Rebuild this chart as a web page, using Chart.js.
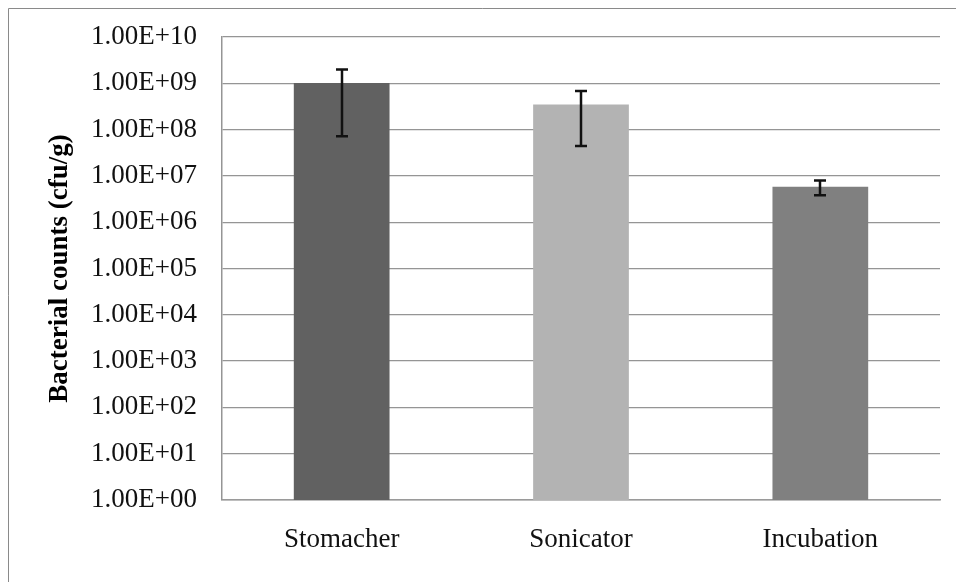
<!DOCTYPE html>
<html>
<head>
<meta charset="utf-8">
<title>Bacterial counts</title>
<script src="https://cdn.jsdelivr.net/npm/chart.js@4/dist/chart.umd.min.js"></script>
<style>
  html, body { margin: 0; padding: 0; background: #fff; }
  #wrap { width: 956px; height: 582px; }
</style>
</head>
<body>
<div id="wrap"><canvas id="countsChart" width="956" height="582"></canvas></div>
<script>
// Values (cfu/g)
const methods = ["Stomacher", "Sonicator", "Incubation"];
const counts = [1.02e9, 3.5e8, 5.8e6];
const errHigh = [1.98e9, 6.8e8, 8.0e6];
const errLow = [7.2e7, 4.4e7, 3.8e6];
const barColors = ["#616161", "#b3b3b3", "#808080"];

const yTickValues = [1, 1e1, 1e2, 1e3, 1e4, 1e5, 1e6, 1e7, 1e8, 1e9, 1e10];
const yTickLabels = [
  "1.00E+00", "1.00E+01", "1.00E+02", "1.00E+03", "1.00E+04", "1.00E+05",
  "1.00E+06", "1.00E+07", "1.00E+08", "1.00E+09", "1.00E+10",
];

const serif = "'Liberation Serif', 'Times New Roman', serif";

// thin frame round the whole figure (left and top edges only are visible)
const framePlugin = {
  id: "frame",
  beforeDraw: (chart) => {
    const ctx = chart.ctx;
    ctx.save();
    ctx.strokeStyle = "#8a8a8a";
    ctx.lineWidth = 1;
    ctx.beginPath();
    ctx.moveTo(8.5, chart.height);
    ctx.lineTo(8.5, 8.5);
    ctx.lineTo(chart.width, 8.5);
    ctx.stroke();
    ctx.restore();
  },
};

// error bars drawn through the chart's own scales
const errorBarPlugin = {
  id: "errorBars",
  afterDatasetsDraw: (chart) => {
    const ctx = chart.ctx;
    const yScale = chart.scales.y;
    const meta = chart.getDatasetMeta(0);
    ctx.save();
    ctx.strokeStyle = "#111";
    ctx.lineWidth = 2.5;
    meta.data.forEach((bar, i) => {
      const x = Math.round(bar.x);
      const top = yScale.getPixelForValue(errHigh[i]);
      const bottom = yScale.getPixelForValue(errLow[i]);
      const cap = 6;
      ctx.beginPath();
      ctx.moveTo(x, top);
      ctx.lineTo(x, bottom);
      ctx.moveTo(x - cap, top);
      ctx.lineTo(x + cap, top);
      ctx.moveTo(x - cap, bottom);
      ctx.lineTo(x + cap, bottom);
      ctx.stroke();
    });
    ctx.restore();
  },
};

new Chart("countsChart", {
  type: "bar",
  data: {
    labels: methods,
    datasets: [
      {
        label: "Bacterial counts",
        data: counts,
        backgroundColor: barColors,
        borderWidth: 0,
        barPercentage: 0.4,
        categoryPercentage: 1.0,
      },
    ],
  },
  options: {
    responsive: false,
    animation: false,
    layout: { padding: { left: 40, right: 16, top: 37, bottom: 0 } },
    plugins: {
      legend: { display: false },
      tooltip: { enabled: false },
    },
    scales: {
      x: {
        grid: { display: false, drawTicks: false },
        border: { color: "#9a9a9a", width: 1.5 },
        ticks: {
          color: "#111",
          padding: 24,
          font: { family: serif, size: 27 },
        },
        afterFit: (scale) => {
          scale.height = 82;
        },
      },
      y: {
        type: "logarithmic",
        min: 1,
        max: 1e10,
        afterBuildTicks: (scale) => {
          scale.ticks = yTickValues.map((v) => ({ value: v }));
        },
        afterFit: (scale) => {
          scale.width = 182;
        },
        // invisible tick marks give the gap between labels and axis
        grid: {
          color: "#959595",
          lineWidth: 1.2,
          drawTicks: true,
          tickLength: 21,
          tickColor: "rgba(0,0,0,0)",
        },
        border: { color: "#959595", width: 1.5 },
        ticks: {
          color: "#111",
          padding: 4,
          autoSkip: false,
          font: { family: serif, size: 27 },
          callback: (value, index) => yTickLabels[index],
        },
        title: {
          display: true,
          text: "Bacterial counts (cfu/g)",
          color: "#000",
          padding: { top: 4, bottom: 4 },
          font: { family: serif, size: 27, weight: "bold" },
        },
      },
    },
  },
  plugins: [framePlugin, errorBarPlugin],
});
</script>
</body>
</html>
